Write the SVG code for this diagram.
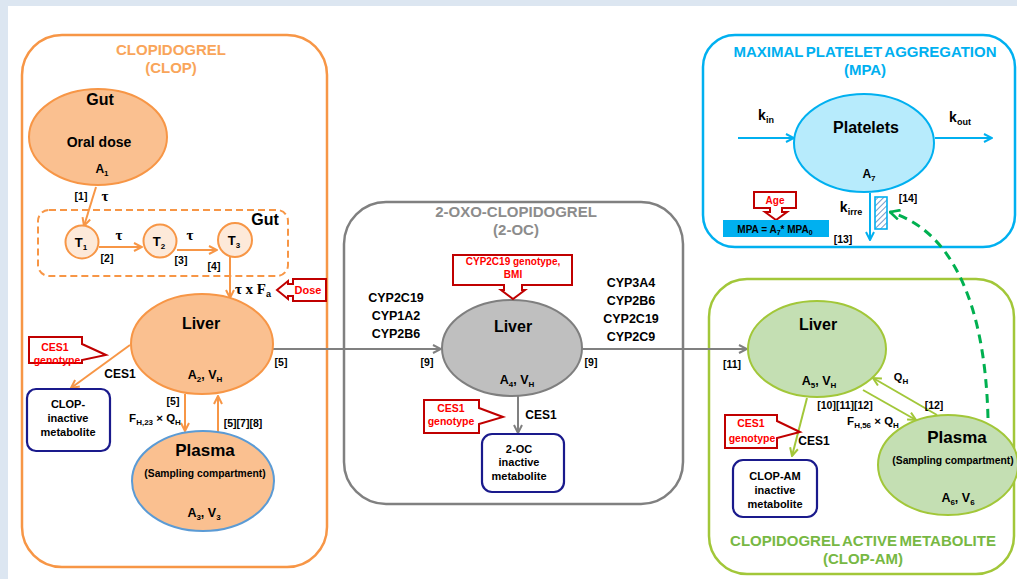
<svg xmlns="http://www.w3.org/2000/svg" width="1017" height="579" viewBox="0 0 1017 579">
<style>
text{font-family:"Liberation Sans",Arial,sans-serif;font-weight:bold;fill:#000;text-anchor:middle}
.ttl{font-size:15px}
.lbl{font-size:16px}
.sm{font-size:10.5px}
.cyp{font-size:12.5px}
.met{font-size:11px}
.red{fill:#ff0000;font-size:10.5px}
.tau{font-family:"Liberation Serif","Times New Roman",serif;font-size:15px}
.call{fill:#fff;stroke:#c00000;stroke-width:2}
.ob{fill:none;stroke:#f79646;stroke-width:2}
.gb{fill:none;stroke:#808080;stroke-width:2}
.grn{fill:none;stroke:#a2c739;stroke-width:2}
.blu{fill:none;stroke:#00b0f0;stroke-width:2}
.mbox{fill:#fff;stroke:#1a1a8c;stroke-width:2.2}
</style>
<defs>
<marker id="ao" viewBox="0 0 10 10" refX="9" refY="5" markerWidth="10" markerHeight="10" markerUnits="userSpaceOnUse" orient="auto"><path d="M1,1 L9,5 L1,9" fill="none" stroke="#f79646" stroke-width="2"/></marker>
<marker id="ag" viewBox="0 0 10 10" refX="9" refY="5" markerWidth="10" markerHeight="10" markerUnits="userSpaceOnUse" orient="auto"><path d="M1,1 L9,5 L1,9" fill="none" stroke="#808080" stroke-width="2"/></marker>
<marker id="agr" viewBox="0 0 10 10" refX="9" refY="5" markerWidth="10" markerHeight="10" markerUnits="userSpaceOnUse" orient="auto"><path d="M1,1 L9,5 L1,9" fill="none" stroke="#a2c739" stroke-width="2"/></marker>
<marker id="ab" viewBox="0 0 10 10" refX="9" refY="5" markerWidth="10" markerHeight="10" markerUnits="userSpaceOnUse" orient="auto"><path d="M1,1 L9,5 L1,9" fill="none" stroke="#00b0f0" stroke-width="2"/></marker>
<marker id="ad" viewBox="0 0 10 10" refX="9" refY="5" markerWidth="12" markerHeight="12" markerUnits="userSpaceOnUse" orient="auto"><path d="M1,1 L9,5 L1,9" fill="none" stroke="#00b050" stroke-width="2.2"/></marker>
<pattern id="hatch" width="4" height="4" patternUnits="userSpaceOnUse" patternTransform="rotate(45)"><rect width="4" height="4" fill="#fff"/><line x1="0" y1="0" x2="0" y2="4" stroke="#4f81bd" stroke-width="1.6"/></pattern>
</defs>
<rect width="1017" height="579" fill="#dce6f1"/>
<rect x="8" y="6" width="1009" height="573" fill="#fff"/>

<g id="clop-box">
<rect x="22" y="35" width="305" height="532" rx="40" fill="none" stroke="#f79646" stroke-width="2.5"/>
<text class="ttl" x="171" y="55" style="fill:#f9a55a">CLOPIDOGREL</text>
<text class="ttl" x="171" y="73" style="fill:#f9a55a">(CLOP)</text>
</g>
<g id="oc-box">
<rect x="344" y="202" width="339" height="302" rx="42" fill="none" stroke="#808080" stroke-width="2.5"/>
<text class="ttl" x="516" y="217" style="fill:#8c8c8c">2-OXO-CLOPIDOGREL</text>
<text class="ttl" x="516" y="235" style="fill:#8c8c8c">(2-OC)</text>
</g>
<g id="mpa-box">
<rect x="703" y="35" width="312" height="212" rx="32" fill="none" stroke="#00b0f0" stroke-width="2.5"/>
<text class="ttl" x="865" y="57" style="fill:#00b0f0;word-spacing:-1.5px">MAXIMAL PLATELET AGGREGATION</text>
<text class="ttl" x="865" y="75" style="fill:#00b0f0">(MPA)</text>
</g>
<g id="am-box">
<rect x="709" y="279" width="305" height="295" rx="38" fill="none" stroke="#a2c739" stroke-width="2.5"/>
<text class="ttl" x="863" y="546" style="fill:#77b843;word-spacing:-1.5px">CLOPIDOGREL ACTIVE METABOLITE</text>
<text class="ttl" x="863" y="564" style="fill:#77b843">(CLOP-AM)</text>
</g>

<g id="connectors">
<path class="ob" d="M96,187 L84,226" marker-end="url(#ao)"/>
<path class="ob" d="M99,247 L142,247" marker-end="url(#ao)"/>
<path class="ob" d="M177,250 L217,250" marker-end="url(#ao)"/>
<path class="ob" d="M230,257 L230,298" marker-end="url(#ao)"/>
<path class="ob" d="M130,345 L71,388" marker-end="url(#ao)"/>
<path class="ob" d="M185,394 L185,431" marker-end="url(#ao)"/>
<path class="ob" d="M218,432 L218,396" marker-end="url(#ao)"/>
<path class="gb" d="M273,349 L441,349" marker-end="url(#ag)"/>
<path class="gb" d="M581,349 L747,349" marker-end="url(#ag)"/>
<path class="gb" d="M518,396 L518,433" marker-end="url(#ag)"/>
<path class="blu" d="M738,138 L794,138" marker-end="url(#ab)"/>
<path class="blu" d="M935,138 L992,138" marker-end="url(#ab)"/>
<path class="blu" d="M870,193 L870,240" marker-end="url(#ab)"/>
<path class="grn" d="M807,398 L792,456" marker-end="url(#agr)"/>
<path class="grn" d="M937,415 L873,378" marker-end="url(#agr)"/>
<path class="grn" d="M863,390 L916,420" marker-end="url(#agr)"/>
<path d="M988,418 C985,300 950,230 890,212" fill="none" stroke="#00b050" stroke-width="3" stroke-dasharray="9,6" marker-end="url(#ad)"/>
</g>

<g id="gut">
<ellipse cx="98" cy="137" rx="69" ry="48" fill="#fac090" stroke="#f79646" stroke-width="2"/>
<text class="lbl" x="100" y="105">Gut</text>
<text x="99" y="147" style="font-size:14px">Oral dose</text>
<text x="102" y="173" style="font-size:12px">A<tspan dy="3" style="font-size:8px">1</tspan></text>
</g>
<g id="gut-transit">
<rect x="38" y="210" width="250" height="66" rx="11" fill="none" stroke="#f79646" stroke-width="2" stroke-dasharray="7,4"/>
<text class="lbl" x="265" y="225">Gut</text>
</g>
<g id="t1"><circle cx="82" cy="242" r="16.5" fill="#fde9d9" stroke="#f79646" stroke-width="2"/><text x="81" y="247" style="font-size:13px">T<tspan dy="3" style="font-size:8px">1</tspan></text></g>
<g id="t2"><circle cx="160" cy="241" r="16.5" fill="#fde9d9" stroke="#f79646" stroke-width="2"/><text x="159" y="246" style="font-size:13px">T<tspan dy="3" style="font-size:8px">2</tspan></text></g>
<g id="t3"><circle cx="235" cy="240" r="17" fill="#fde9d9" stroke="#f79646" stroke-width="2"/><text x="234" y="245" style="font-size:13px">T<tspan dy="3" style="font-size:8px">3</tspan></text></g>

<g id="clop-liver">
<ellipse cx="202" cy="344" rx="71" ry="50" fill="#fac090" stroke="#f79646" stroke-width="2"/>
<text class="lbl" x="201" y="329">Liver</text>
<text x="205" y="379" style="font-size:12.5px">A<tspan dy="3" style="font-size:8px">2</tspan><tspan dy="-3">, V</tspan><tspan dy="3" style="font-size:8px">H</tspan></text>
</g>
<g id="clop-plasma">
<ellipse cx="203" cy="481" rx="71" ry="50" fill="#fac090" stroke="#5b9bd5" stroke-width="2"/>
<text x="205" y="456" style="font-size:17px">Plasma</text>
<text x="205" y="477" style="font-size:10.3px">(Sampling compartment)</text>
<text x="204" y="517" style="font-size:12.5px">A<tspan dy="3" style="font-size:8px">3</tspan><tspan dy="-3">, V</tspan><tspan dy="3" style="font-size:8px">3</tspan></text>
</g>
<g id="clop-inactive">
<rect x="27" y="389" width="83" height="62" rx="9" class="mbox"/>
<text class="met" x="68" y="408">CLOP-</text>
<text class="met" x="68" y="422">inactive</text>
<text class="met" x="68" y="436">metabolite</text>
</g>
<g id="dose-callout">
<path class="call" d="M326,279 H293 V284 H288 V281 L277,290 L288,299 V296 H293 V301 H326 Z"/>
<text class="red" x="308" y="294" style="font-size:11px">Dose</text>
</g>
<g id="ces1-callout-clop">
<path class="call" d="M29,337 H82 V344 L106,355 L82,360 V363 H29 Z"/>
<text class="red" x="55" y="351">CES1</text>
<text class="red" x="57" y="364">genotype</text>
</g>

<g id="oc-liver">
<ellipse cx="512" cy="348" rx="70" ry="48" fill="#bfbfbf" stroke="#7f7f7f" stroke-width="2"/>
<text class="lbl" x="513" y="332">Liver</text>
<text x="517" y="384" style="font-size:12.5px">A<tspan dy="3" style="font-size:8px">4</tspan><tspan dy="-3">, V</tspan><tspan dy="3" style="font-size:8px">H</tspan></text>
</g>
<g id="cyp-callout">
<path class="call" d="M453,255 H572 V285 H522 V290 H525 L513,299 L501,290 H504 V285 H453 Z"/>
<text class="red" x="513" y="265" style="font-size:10px">CYP2C19 genotype,</text>
<text class="red" x="513" y="278" style="font-size:10px">BMI</text>
</g>
<g id="oc-inactive">
<rect x="482" y="434" width="82" height="58" rx="10" class="mbox"/>
<text class="met" x="519" y="453">2-OC</text>
<text class="met" x="519" y="466">inactive</text>
<text class="met" x="519" y="480">metabolite</text>
</g>
<g id="ces1-callout-oc">
<path class="call" d="M424,400 H479 V408 L503,417 L479,424 V433 H424 Z"/>
<text class="red" x="451" y="412">CES1</text>
<text class="red" x="451" y="425">genotype</text>
</g>

<g id="platelets">
<ellipse cx="864" cy="143" rx="70" ry="49" fill="#b7ebfc" stroke="#00b0f0" stroke-width="2"/>
<text class="lbl" x="866" y="133">Platelets</text>
<text x="869" y="178" style="font-size:12px">A<tspan dy="3" style="font-size:8px">7</tspan></text>
</g>
<g id="hatch-box"><rect x="875" y="197" width="12" height="32" fill="url(#hatch)" stroke="#00b0f0" stroke-width="1.6"/></g>
<g id="age-callout">
<path class="call" d="M754,192 H796 V208 H782 V212 H787 L776,220 L765,212 H770 V208 H754 Z"/>
<text class="red" x="775" y="204" style="font-size:10px">Age</text>
</g>
<g id="mpa-formula">
<rect x="723" y="220" width="106" height="17" fill="#00b0f0"/>
<text x="775" y="233" style="font-size:10px">MPA = A<tspan dy="2" style="font-size:7px">7</tspan><tspan dy="-2">* MPA</tspan><tspan dy="2" style="font-size:7px">0</tspan></text>
</g>

<g id="am-liver">
<ellipse cx="817" cy="349" rx="69" ry="48" fill="#c4dfb3" stroke="#a2c739" stroke-width="2"/>
<text class="lbl" x="818" y="330">Liver</text>
<text x="819" y="385" style="font-size:12.5px">A<tspan dy="3" style="font-size:8px">5</tspan><tspan dy="-3">, V</tspan><tspan dy="3" style="font-size:8px">H</tspan></text>
</g>
<g id="am-plasma">
<ellipse cx="948" cy="465" rx="70" ry="50" fill="#c4dfb3" stroke="#a2c739" stroke-width="2"/>
<text x="957" y="443" style="font-size:17px">Plasma</text>
<text x="953" y="464" style="font-size:10.3px">(Sampling compartment)</text>
<text x="958" y="502" style="font-size:12.5px">A<tspan dy="3" style="font-size:8px">6</tspan><tspan dy="-3">, V</tspan><tspan dy="3" style="font-size:8px">6</tspan></text>
</g>
<g id="am-inactive">
<rect x="733" y="460" width="84" height="57" rx="10" class="mbox"/>
<text class="met" x="775" y="480">CLOP-AM</text>
<text class="met" x="775" y="494">inactive</text>
<text class="met" x="775" y="508">metabolite</text>
</g>
<g id="ces1-callout-am">
<path class="call" d="M725,415 H777 V421 L800,432 L777,438 V448 H725 Z"/>
<text class="red" x="751" y="427">CES1</text>
<text class="red" x="752" y="442">genotype</text>
</g>

<g id="labels">
<text class="sm" x="81" y="200">[1]</text>
<text class="tau" x="105" y="201">τ</text>
<text class="tau" x="119" y="240">τ</text>
<text class="sm" x="107" y="262">[2]</text>
<text class="tau" x="190" y="240">τ</text>
<text class="sm" x="181" y="264">[3]</text>
<text class="sm" x="214" y="270">[4]</text>
<text class="tau" x="253" y="294">τ x F<tspan dy="3" style="font-size:9px;font-family:'Liberation Sans',Arial,sans-serif">a</tspan></text>
<text x="120" y="378" style="font-size:12px">CES1</text>
<text class="sm" x="173" y="405">[5]</text>
<text x="155" y="422" style="font-size:11.5px">F<tspan dy="3" style="font-size:8px">H,23</tspan><tspan dy="-3"> × Q</tspan><tspan dy="3" style="font-size:8px">H</tspan></text>
<text class="sm" x="243" y="427">[5][7][8]</text>
<text class="sm" x="281" y="366">[5]</text>
<text class="cyp" x="396" y="302">CYP2C19</text>
<text class="cyp" x="396" y="320">CYP1A2</text>
<text class="cyp" x="396" y="338">CYP2B6</text>
<text class="cyp" x="631" y="287">CYP3A4</text>
<text class="cyp" x="631" y="305">CYP2B6</text>
<text class="cyp" x="631" y="323">CYP2C19</text>
<text class="cyp" x="631" y="341">CYP2C9</text>
<text class="sm" x="427" y="366">[9]</text>
<text class="sm" x="591" y="366">[9]</text>
<text x="541" y="419" style="font-size:12px">CES1</text>
<text class="sm" x="732" y="368">[11]</text>
<text x="766" y="120" style="font-size:14px">k<tspan dy="3" style="font-size:9px">in</tspan></text>
<text x="960" y="122" style="font-size:14px">k<tspan dy="3" style="font-size:9px">out</tspan></text>
<text x="851" y="212" style="font-size:14px">k<tspan dy="3" style="font-size:9px">irre</tspan></text>
<text class="sm" x="908" y="202">[14]</text>
<text class="sm" x="843" y="243">[13]</text>
<text x="901" y="381" style="font-size:11px">Q<tspan dy="3" style="font-size:8px">H</tspan></text>
<text class="sm" x="845" y="409">[10][11][12]</text>
<text class="sm" x="934" y="409">[12]</text>
<text x="873" y="425" style="font-size:11.5px">F<tspan dy="3" style="font-size:8px">H,56</tspan><tspan dy="-3"> × Q</tspan><tspan dy="3" style="font-size:8px">H</tspan></text>
<text x="814" y="445" style="font-size:12px">CES1</text>
</g>
</svg>
